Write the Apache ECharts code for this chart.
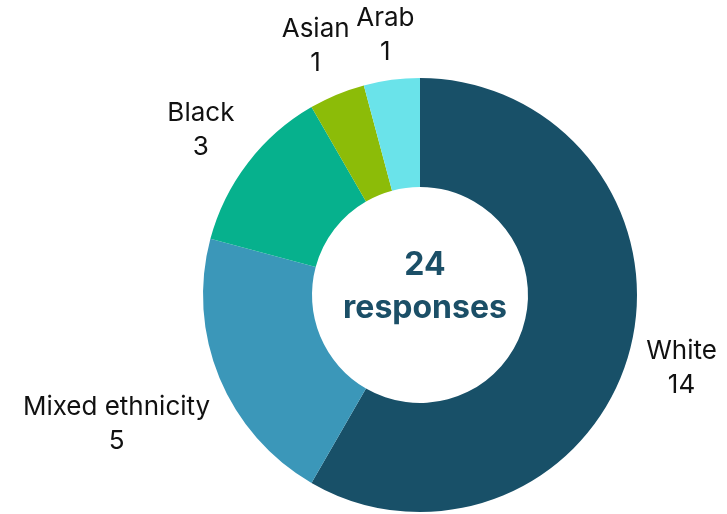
<!DOCTYPE html>
<html>
<head>
<meta charset="utf-8">
<script src="https://cdn.jsdelivr.net/npm/echarts@6/dist/echarts.min.js"></script>
<style>
  html, body { margin: 0; padding: 0; background: #ffffff; }
  #chart { width: 727px; height: 514px; }
</style>
</head>
<body>
<div id="chart"></div>
<script>
// Survey responses by ethnicity
const categories = ['White', 'Mixed ethnicity', 'Black', 'Asian', 'Arab'];
const counts = [14, 5, 3, 1, 1];
const colors = ['#185068', '#3b97b9', '#06b18d', '#8cbc08', '#6ae3ea'];

const total = counts.reduce((a, b) => a + b, 0);
const CX = 420, CY = 295, R_IN = 108, R_OUT = 217;
const LABEL_GAP = 229; // nearest corner of each label box sits at this distance from centre

// mid angle (clockwise from 12 o'clock) of each slice
const midAngles = [];
{
  let acc = 0;
  counts.forEach(v => {
    midAngles.push(((acc + v / 2) / total) * Math.PI * 2);
    acc += v;
  });
}

const chart = echarts.init(document.getElementById('chart'), null, { renderer: 'canvas' });

chart.setOption({
  backgroundColor: '#ffffff',
  animation: false,
  title: {
    text: total + '\nresponses',
    left: CX,
    top: CY - 56,
    textAlign: 'center',
    textStyle: {
      fontFamily: 'Inter, sans-serif',
      fontWeight: 'bold',
      fontSize: 32,
      lineHeight: 43,
      color: '#1b4f67'
    }
  },
  series: [{
    type: 'pie',
    center: [CX, CY],
    radius: [R_IN, R_OUT],
    startAngle: 90,
    clockwise: true,
    avoidLabelOverlap: false,
    itemStyle: { borderWidth: 0 },
    label: {
      show: true,
      position: 'outside',
      formatter: p => p.name + '\n' + p.value,
      fontFamily: 'Inter, sans-serif',
      fontSize: 26,
      lineHeight: 34,
      color: '#111111',
      align: 'center'
    },
    labelLine: { show: false, length: 0, length2: 0 },
    labelLayout: function (params) {
      const a = midAngles[params.dataIndex];
      const ux = Math.sin(a), uy = -Math.cos(a);
      const w = params.labelRect.width, h = params.labelRect.height;
      const sx = Math.sign(ux) * w / 2, sy = Math.sign(uy) * h / 2;
      const us = ux * sx + uy * sy;
      const d = us + Math.sqrt(us * us - (sx * sx + sy * sy) + LABEL_GAP * LABEL_GAP);
      return {
        x: CX + d * ux,
        y: CY + d * uy + 3,
        align: 'center',
        verticalAlign: 'middle'
      };
    },
    data: categories.map((name, i) => ({
      name: name,
      value: counts[i],
      itemStyle: { color: colors[i] }
    }))
  }]
});
</script>
</body>
</html>
